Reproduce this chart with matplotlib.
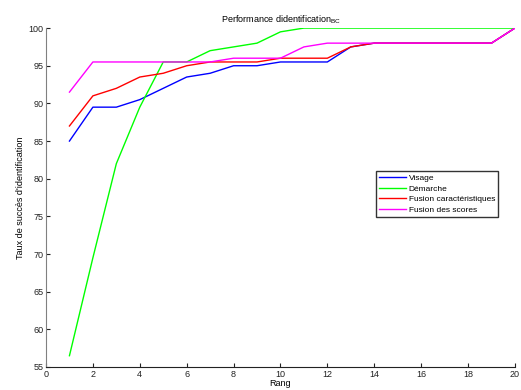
import matplotlib
matplotlib.use("Agg")
import matplotlib.pyplot as plt

plt.rcParams['font.family'] = ['Liberation Sans', 'DejaVu Sans']

rang = list(range(1, 21))
visage = [85, 89.5, 89.5, 90.5, 92, 93.5, 94, 95, 95, 95.5, 95.5, 95.5, 97.5, 98, 98, 98, 98, 98, 98, 100]
demarche = [56.5, 69.5, 82, 89.5, 95.5, 95.5, 97, 97.5, 98, 99.5, 100, 100, 100, 100, 100, 100, 100, 100, 100, 100]
fusion_car = [87, 91, 92, 93.5, 94, 95, 95.5, 95.5, 95.5, 96, 96, 96, 97.5, 98, 98, 98, 98, 98, 98, 100]
fusion_scores = [91.5, 95.5, 95.5, 95.5, 95.5, 95.5, 95.5, 96, 96, 96, 97.5, 98, 98, 98, 98, 98, 98, 98, 98, 100]

fig = plt.figure(figsize=(5.21, 3.9), dpi=100)
ax = fig.add_axes([0.0883, 0.059, 0.900, 0.869])

ax.plot(rang, visage, color='#0000ff', lw=1, label='Visage')
ax.plot(rang, demarche, color='#00ff00', lw=1, label='Démarche')
ax.plot(rang, fusion_car, color='#ff0000', lw=1, label='Fusion caractéristiques')
ax.plot(rang, fusion_scores, color='#ff00ff', lw=1, label='Fusion des scores')

ax.set_xlim(0, 20)
ax.set_ylim(55, 100)
ax.set_xticks(range(0, 21, 2))
ax.set_yticks(range(55, 101, 5))
ax.tick_params(direction='in', length=3, labelsize=6.5, pad=2, colors='#222222')
for s in ['top', 'right']:
    ax.spines[s].set_visible(False)
ax.spines['left'].set_color('#808080')
ax.spines['bottom'].set_color('#222222')

ax.set_xlabel('Rang', fontsize=6.5, labelpad=0)
ax.set_ylabel("Taux de succès d'identification", fontsize=6.5, labelpad=2)
ax.set_title('Performance didentification$_{\\mathregular{BC}}$', fontsize=6.5, pad=4)

leg = ax.legend(loc='upper left', bbox_to_anchor=(0.703, 0.578), fontsize=6,
                frameon=True, fancybox=False, edgecolor='black',
                handlelength=3.3, borderpad=0.35, labelspacing=0.35, handletextpad=0.3,
                borderaxespad=0)
leg.get_frame().set_linewidth(1)

fig.savefig('out.png', dpi=100)
